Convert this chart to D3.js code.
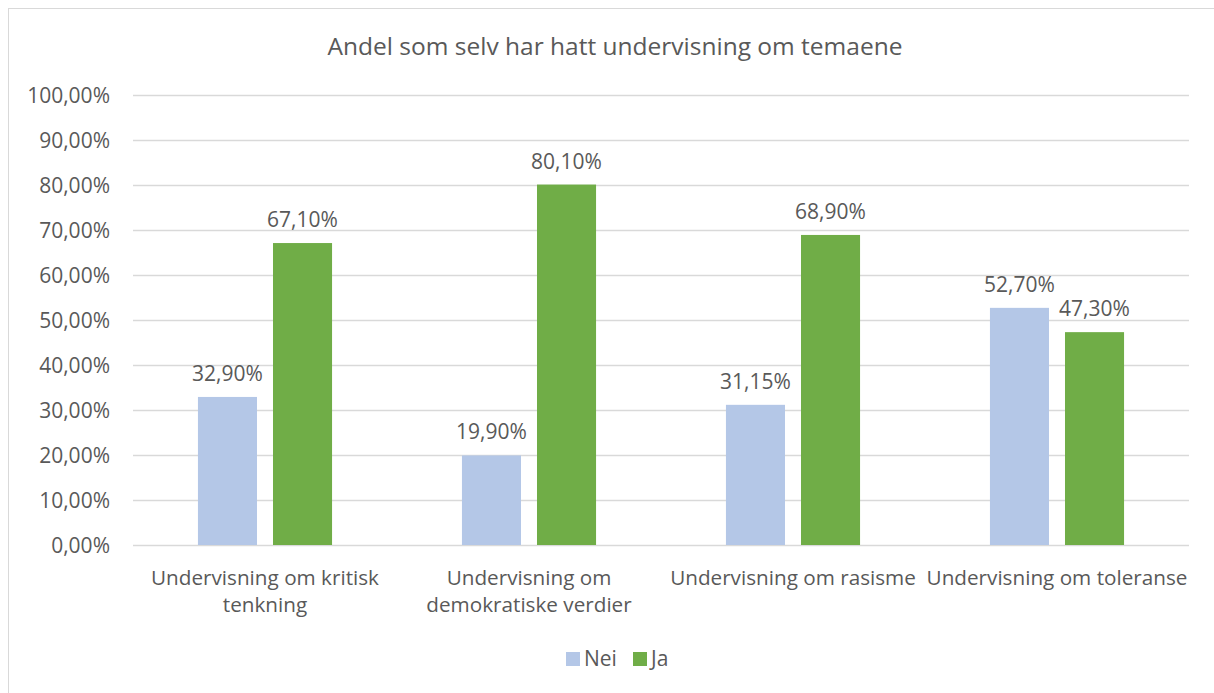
<!DOCTYPE html>
<html>
<head>
<meta charset="utf-8">
<script src="https://cdn.jsdelivr.net/npm/d3@7"></script>
<style>
  body { margin: 0; background: #fff; }
  text { font-family: "Open Sans", sans-serif; fill: #595959; }
</style>
</head>
<body>
<svg width="1214" height="693"></svg>
<script>
var categories = [
    ["Undervisning om kritisk", "tenkning"],
    ["Undervisning om", "demokratiske verdier"],
    ["Undervisning om rasisme"],
    ["Undervisning om toleranse"]
];
var seriesNames = ["Nei", "Ja"];
var neiValues = [32.90, 19.90, 31.15, 52.70];
var jaValues = [67.10, 80.10, 68.90, 47.30];
var yTicks = [0, 10, 20, 30, 40, 50, 60, 70, 80, 90, 100];
var colors = ["#B4C7E7", "#70AD47"];
var title = "Andel som selv har hatt undervisning om temaene";

var svg = d3.select("svg"),
    margin = { top: 95, right: 25, bottom: 148, left: 133 },
    width = 1189 - margin.left,
    height = 545 - margin.top;

// chart frame
svg.append("rect")
    .attr("x", 8.5).attr("y", 8.5)
    .attr("width", 1230).attr("height", 720)
    .attr("fill", "none")
    .attr("stroke", "#D9D9D9");

svg.append("text")
    .attr("x", 615).attr("y", 55)
    .attr("text-anchor", "middle")
    .style("font-size", "24.5px")
    .text(title);

var g = svg.append("g")
    .attr("transform", "translate(" + margin.left + "," + margin.top + ")");

var x0 = d3.scaleBand()
    .domain(d3.range(categories.length))
    .range([0, width]);

var bw = x0.bandwidth();
var x1 = d3.scaleBand()
    .domain(seriesNames)
    .range([bw * 0.246, bw * 0.754])
    .paddingInner(0.213);

var y = d3.scaleLinear()
    .domain([0, 100])
    .range([height, 0]);

var fmt = function(v) { return d3.format(".2f")(v).replace(".", ",") + "%"; };

// gridlines
g.append("g")
    .selectAll("line").data(yTicks).enter().append("line")
    .attr("x1", 0).attr("x2", width)
    .attr("y1", function(d) { return y(d) + 0.5; })
    .attr("y2", function(d) { return y(d) + 0.5; })
    .attr("stroke", "#D9D9D9")
    .attr("stroke-width", 1.5);

// y axis labels
g.append("g")
    .selectAll("text").data(yTicks).enter().append("text")
    .attr("x", -23)
    .attr("y", function(d) { return y(d) + 7.5; })
    .attr("text-anchor", "end")
    .style("font-size", "21px")
    .text(fmt);

var rows = categories.map(function(c, i) {
    return [neiValues[i], jaValues[i]];
});

var cat = g.selectAll(".cat").data(rows).enter().append("g")
    .attr("class", "cat")
    .attr("transform", function(d, i) { return "translate(" + x0(i) + ",0)"; });

cat.selectAll("rect").data(function(d) { return d; }).enter().append("rect")
    .attr("x", function(d, j) { return x1(seriesNames[j]); })
    .attr("y", function(d) { return y(d); })
    .attr("width", x1.bandwidth())
    .attr("height", function(d) { return height - y(d); })
    .attr("fill", function(d, j) { return colors[j]; });

cat.selectAll(".lbl").data(function(d) { return d; }).enter().append("text")
    .attr("class", "lbl")
    .attr("x", function(d, j) { return x1(seriesNames[j]) + x1.bandwidth() / 2; })
    .attr("y", function(d) { return y(d) - 16; })
    .attr("text-anchor", "middle")
    .style("font-size", "21px")
    .text(function(d) { return d3.format(".2f")(d).replace(".", ",") + "%"; });

// category labels
var xl = g.append("g").selectAll("text").data(categories).enter().append("text")
    .attr("x", function(d, i) { return x0(i) + bw / 2; })
    .attr("y", height + 40)
    .attr("text-anchor", "middle")
    .style("font-size", "20.7px");

xl.selectAll("tspan").data(function(d) { return d; }).enter().append("tspan")
    .attr("x", function() { return d3.select(this.parentNode).attr("x"); })
    .attr("dy", function(d, k) { return k === 0 ? 0 : 27; })
    .text(function(d) { return d; });

// legend
var legend = svg.append("g");
var legendX = [566, 633];
seriesNames.forEach(function(name, j) {
    legend.append("rect")
        .attr("x", legendX[j]).attr("y", 652)
        .attr("width", 14).attr("height", 14)
        .attr("fill", colors[j]);
    legend.append("text")
        .attr("x", legendX[j] + 18).attr("y", 666)
        .style("font-size", "21px")
        .text(name);
});
</script>
</body>
</html>
